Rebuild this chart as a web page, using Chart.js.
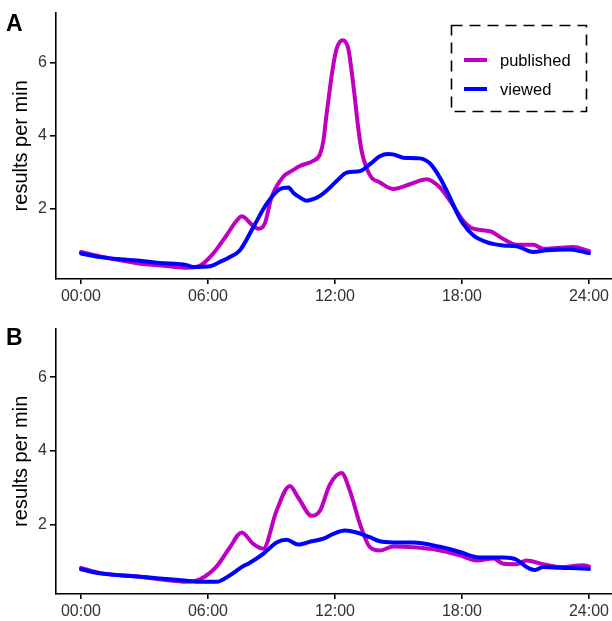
<!DOCTYPE html>
<html><head><meta charset="utf-8">
<script src="https://cdn.jsdelivr.net/npm/chart.js@4"></script>
<style>
html,body{margin:0;padding:0;background:#fff;}
body{width:612px;height:621px;position:relative;overflow:hidden;font-family:"Liberation Sans",Arial,sans-serif;}
.tag{position:absolute;left:6px;font-weight:bold;font-size:23px;line-height:1;color:#000;}
canvas{position:absolute;left:0;}
</style></head><body>
<canvas id="cA" width="612" height="310" style="top:0px"></canvas>
<canvas id="cB" width="612" height="305" style="top:316px"></canvas>
<div class="tag" style="top:12px">A</div>
<div class="tag" style="top:326px">B</div>
<svg width="612" height="621" style="position:absolute;left:0;top:0;pointer-events:none">
  <rect x="451.5" y="25.5" width="135" height="86" fill="none" stroke="#000" stroke-width="1.6" stroke-dasharray="11 7"/>
  <line id="lg0" x1="464" y1="60" x2="487" y2="60" stroke-width="4"/>
  <line id="lg1" x1="464" y1="89" x2="487" y2="89" stroke-width="4"/>
  <text id="lt0" x="500" y="66" font-size="16.5" font-family="Liberation Sans, Arial, sans-serif" fill="#000"></text>
  <text id="lt1" x="500" y="95" font-size="16.5" font-family="Liberation Sans, Arial, sans-serif" fill="#000"></text>
</svg>
<script>
// ---- data ----
const seriesNames = ['published', 'viewed'];
const seriesColors = ['#c000c0', '#0000ff'];
const xTickValues = [0, 6, 12, 18, 24];
const xTickLabels = ['00:00', '06:00', '12:00', '18:00', '24:00'];
const yTickValues = [2, 4, 6];
const yTitle = 'results per min';

// Panel A
const pubA_h = [0, 0.9, 2.8, 3.7, 5.0, 5.6, 6.25, 6.88, 7.35, 7.6, 8.14, 8.4, 8.69, 9.0, 9.56, 10.0, 10.34, 10.97, 11.29, 11.45, 11.6, 11.76, 11.92, 12.08, 12.36, 12.63, 12.79, 12.94, 13.1, 13.26, 13.49, 13.73, 14.12, 14.52, 14.75, 15.54, 16.33, 16.96, 17.59, 18.06, 18.53, 19.32, 19.95, 20.58, 21.37, 21.84, 22.63, 23.26, 24];
const pubA_v = [0.81, 0.69, 0.49, 0.45, 0.38, 0.43, 0.77, 1.27, 1.67, 1.79, 1.52, 1.45, 1.60, 2.31, 2.88, 3.05, 3.17, 3.31, 3.49, 3.85, 4.58, 5.30, 5.94, 6.39, 6.62, 6.39, 5.76, 5.03, 4.21, 3.58, 3.12, 2.85, 2.72, 2.58, 2.54, 2.67, 2.81, 2.58, 2.08, 1.67, 1.45, 1.38, 1.17, 1.01, 1.01, 0.90, 0.93, 0.95, 0.84];
const viewA_h = [0, 0.9, 2.8, 3.7, 5.0, 5.3, 6.1, 6.57, 7.0, 7.51, 8.14, 8.77, 9.4, 9.8, 10.03, 10.34, 10.66, 10.97, 11.29, 11.6, 12.08, 12.55, 13.18, 13.65, 14.12, 14.5, 14.75, 15.22, 16.01, 16.49, 16.96, 17.43, 17.75, 18.06, 18.53, 19.16, 19.95, 20.58, 21.37, 22.0, 23.1, 24];
const viewA_v = [0.77, 0.67, 0.57, 0.51, 0.45, 0.40, 0.42, 0.54, 0.66, 0.86, 1.49, 2.13, 2.54, 2.58, 2.44, 2.31, 2.22, 2.26, 2.35, 2.49, 2.76, 2.99, 3.03, 3.22, 3.44, 3.50, 3.49, 3.40, 3.38, 3.24, 2.85, 2.31, 1.90, 1.58, 1.27, 1.08, 0.99, 0.97, 0.81, 0.86, 0.88, 0.78];

// Panel B
const pubB_h = [0, 0.9, 2.8, 3.7, 5.0, 5.62, 6.41, 7.04, 7.59, 8.14, 8.61, 9.24, 9.87, 10.27, 10.9, 11.29, 11.76, 12.31, 12.71, 13.18, 13.65, 14.12, 14.75, 15.7, 16.8, 17.9, 18.69, 19.48, 19.95, 20.58, 21.05, 21.84, 22.63, 23.73, 24];
const pubB_v = [0.83, 0.69, 0.59, 0.52, 0.45, 0.52, 0.87, 1.39, 1.79, 1.48, 1.35, 2.38, 3.05, 2.73, 2.24, 2.38, 3.09, 3.40, 2.91, 2.02, 1.39, 1.30, 1.41, 1.39, 1.32, 1.17, 1.03, 1.08, 0.94, 0.93, 1.03, 0.93, 0.85, 0.90, 0.87];
const viewB_h = [0, 0.9, 2.8, 3.7, 5.0, 5.62, 6.41, 7.04, 7.59, 7.98, 8.61, 9.24, 9.72, 10.27, 10.9, 11.45, 11.92, 12.47, 13.02, 13.65, 14.12, 14.75, 15.7, 16.96, 17.9, 18.69, 19.48, 19.95, 20.58, 21.05, 21.44, 21.84, 22.63, 23.73, 24];
const viewB_v = [0.79, 0.68, 0.59, 0.54, 0.48, 0.45, 0.45, 0.63, 0.85, 0.97, 1.21, 1.52, 1.59, 1.46, 1.55, 1.62, 1.75, 1.84, 1.79, 1.66, 1.55, 1.52, 1.52, 1.40, 1.26, 1.12, 1.11, 1.11, 1.05, 0.85, 0.77, 0.85, 0.83, 0.81, 0.80];

// ---- legend ----
for (let i = 0; i < 2; i++) {
  document.getElementById('lg' + i).setAttribute('stroke', seriesColors[i]);
  document.getElementById('lt' + i).textContent = seriesNames[i];
}

function pts(h, v) { return h.map((x, i) => ({x: x, y: v[i]})); }

function makeChart(id, pub, view, yMin, yMax, xH) {
  const ds = [pub, view].map((d, i) => ({
    label: seriesNames[i],
    data: d,
    borderColor: seriesColors[i],
    backgroundColor: seriesColors[i],
    borderWidth: 4,
    pointRadius: 0,
    fill: false,
    cubicInterpolationMode: 'monotone',
    borderCapStyle: 'round',
    borderJoinStyle: 'round',
    order: i === 0 ? 1 : 0
  }));
  return new Chart(document.getElementById(id), {
    type: 'line',
    data: {datasets: ds},
    options: {
      responsive: false,
      animation: false,
      devicePixelRatio: 1,
      layout: {padding: {top: 10, left: 0, right: 0, bottom: 0}},
      plugins: {legend: {display: false}, tooltip: {enabled: false}},
      scales: {
        x: {
          type: 'linear', min: -1.18, max: 25.08,
          afterBuildTicks: s => { s.ticks = xTickValues.map(v => ({value: v})); },
          afterFit: s => { s.height = xH; },
          ticks: {
            callback: v => xTickLabels[xTickValues.indexOf(v)],
            font: {family: 'Liberation Sans', size: 16}, color: '#333', padding: 3, maxRotation: 0, autoSkip: false
          },
          grid: {display: true, drawOnChartArea: false, drawTicks: true, tickLength: 5, tickColor: '#000', tickWidth: 1.6, color: '#000', lineWidth: 1.6},
          border: {display: true, color: '#000', width: 1.6}
        },
        y: {
          type: 'linear', min: yMin, max: yMax,
          afterBuildTicks: s => { s.ticks = yTickValues.map(v => ({value: v})); },
          afterFit: s => { s.width = 56; },
          ticks: {font: {family: 'Liberation Sans', size: 16}, color: '#333', padding: 3},
          grid: {display: true, drawOnChartArea: false, drawTicks: true, tickLength: 6, tickColor: '#000', tickWidth: 1.6, color: '#000', lineWidth: 1.6},
          border: {display: true, color: '#000', width: 1.6},
          title: {display: true, text: yTitle, font: {family: 'Liberation Sans', size: 20}, color: '#000', padding: {top: 9, bottom: 0}}
        }
      }
    }
  });
}

makeChart('cA', pts(pubA_h, pubA_v), pts(viewA_h, viewA_v), 0.07, 7.38, 31);
makeChart('cB', pts(pubB_h, pubB_v), pts(viewB_h, viewB_v), 0.12, 7.32, 27);
</script>
</body></html>
